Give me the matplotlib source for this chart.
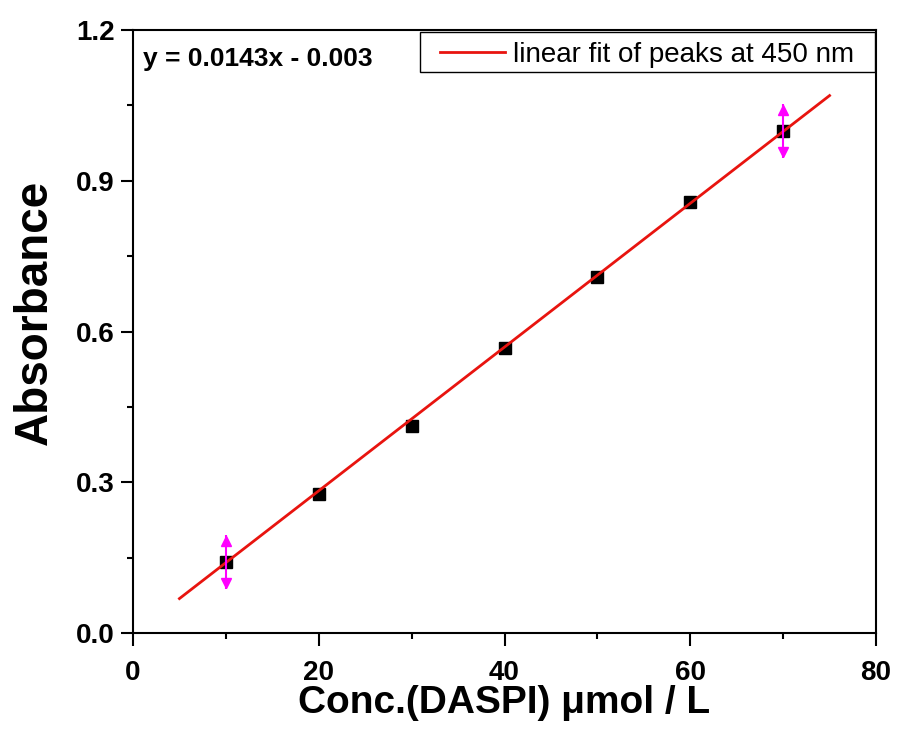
import numpy as np
import matplotlib
matplotlib.use("Agg")
import matplotlib.pyplot as plt
from matplotlib.patches import Rectangle
from matplotlib.ticker import MultipleLocator

plt.rcParams['font.family'] = ['Liberation Sans', 'DejaVu Sans']

# Calibration data: DASPI concentration vs absorbance at 450 nm
conc = [10, 20, 30, 40, 50, 60, 70]
absorbance = [0.141, 0.277, 0.412, 0.567, 0.708, 0.858, 0.999]
abs_err = [0.054, 0, 0, 0, 0, 0, 0.054]

# Linear fit parameters and range
slope = 0.0143
intercept = -0.003
fit_range = [5, 75]

x_ticks = [0, 20, 40, 60, 80]
y_ticks = [0.0, 0.3, 0.6, 0.9, 1.2]

fig = plt.figure(figsize=(8.97, 7.35), dpi=100)
ax = fig.add_axes([133 / 897, 1 - 633 / 735, (876 - 133) / 897, (633 - 30) / 735])

xf = np.linspace(fit_range[0], fit_range[1], 200)
ax.plot(xf, slope * xf + intercept, color='#e8140f', lw=2.0, zorder=3,
        label='linear fit of peaks at 450 nm')

ax.plot(conc, absorbance, 's', color='black', ms=9, zorder=2)

# error bars with arrow-style caps
x_e = np.array(conc, dtype=float)
y_e = np.array(absorbance)
e = np.array(abs_err)
m = e > 0
ax.vlines(x_e[m], y_e[m] - e[m], y_e[m] + e[m], color='#ff00ff', lw=1.5, zorder=4)
ax.plot(x_e[m], y_e[m] + e[m] - 0.012, '^', color='#ff00ff', ms=6.5, zorder=4)
ax.plot(x_e[m], y_e[m] - e[m] + 0.012, 'v', color='#ff00ff', ms=6.5, zorder=4)

ax.set_xlim(0, 80)
ax.set_ylim(0, 1.2)
ax.set_xticks(x_ticks)
ax.set_yticks(y_ticks)
ax.set_xticklabels([str(t) for t in x_ticks])
ax.set_yticklabels([f"{t:.1f}" for t in y_ticks])
ax.xaxis.set_minor_locator(MultipleLocator(10))
ax.yaxis.set_minor_locator(MultipleLocator(0.15))
ax.tick_params(which='major', direction='out', length=9, width=1.5, top=False, right=False)
ax.tick_params(which='minor', direction='out', length=4.5, width=1.5, top=False, right=False)
ax.tick_params(axis='x', which='major', pad=10.5)
ax.tick_params(axis='y', which='major', pad=4)
for lab in ax.get_xticklabels() + ax.get_yticklabels():
    lab.set_fontsize(20)
    lab.set_fontweight('bold')
for s in ax.spines.values():
    s.set_linewidth(1.5)

ax.set_xlabel('Conc.(DASPI) μmol / L', fontsize=28, fontweight='bold', labelpad=-1)
ax.set_ylabel('Absorbance', fontsize=33, fontweight='bold')
ax.yaxis.set_label_coords(-0.102, 0.532)

ax.text(0.013, 0.952, 'y = 0.0143x - 0.003', transform=ax.transAxes,
        fontsize=19, fontweight='bold', va='center', ha='left')

# legend with a wide rectangular frame
leg = ax.legend(loc='center left', bbox_to_anchor=(0.4132, 0.959), fontsize=20,
                frameon=False, borderaxespad=0, borderpad=0,
                handlelength=2.34, handletextpad=0.29)
ax.add_patch(Rectangle((0.3863, 0.9303), 0.6124, 0.0663, transform=ax.transAxes,
                       fill=True, facecolor='white', edgecolor='black', lw=1.0,
                       zorder=5, clip_on=False))
leg.set_zorder(6)

fig.savefig('out.png', dpi=100)
